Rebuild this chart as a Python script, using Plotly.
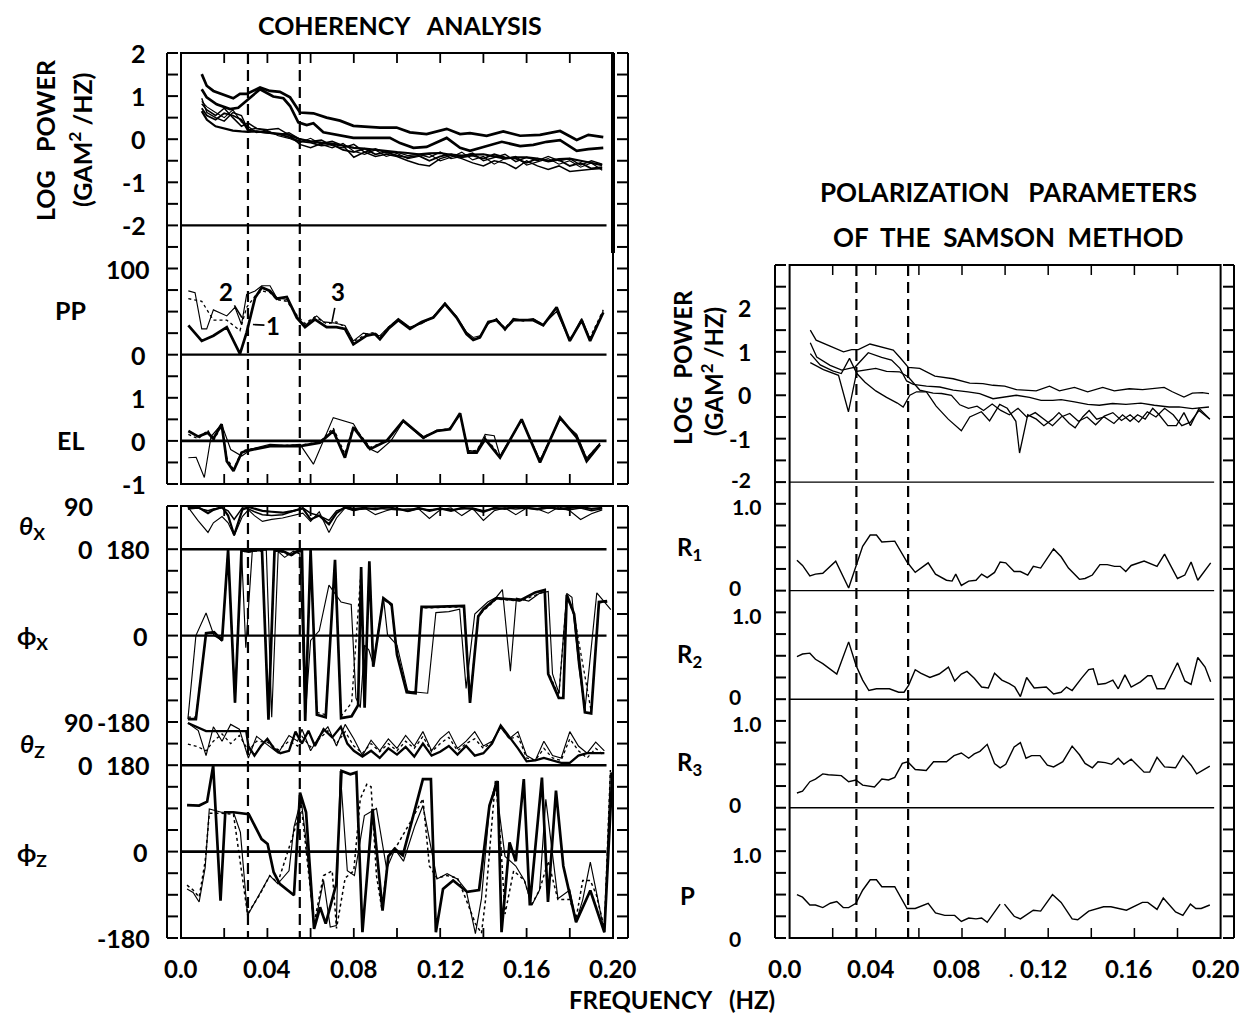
import plotly.graph_objects as go

# ======================= DATA =======================
EVENT_FREQS = [0.031, 0.055]                     # dashed marker frequencies (Hz)
X_TICK_VALUES = [0.0, 0.04, 0.08, 0.12, 0.16, 0.20]
X_TICK_LABELS = ["0.0", "0.04", "0.08", "0.12", "0.16", "0.20"]
X_MINOR_TICKS = [0.02, 0.04, 0.06, 0.08, 0.10, 0.12, 0.14, 0.16, 0.18]

# ---- Coherency analysis: log power (GAM^2/Hz)
LPW_A_F = [0.0096, 0.0119, 0.0150, 0.0196, 0.0242, 0.0273, 0.0304, 0.0366, 0.0412, 0.0458, 0.0505, 0.0551, 0.0613,
           0.0674, 0.0736, 0.0798, 0.0859, 0.0921, 0.0998, 0.1060, 0.1137, 0.1230, 0.1292, 0.1338, 0.1415, 0.1492,
           0.1570, 0.1662, 0.1755, 0.1832, 0.1886, 0.1955]
LPW_A = [1.51, 1.24, 1.12, 1.03, 0.95, 1.05, 1.05, 1.20, 1.12, 1.10, 0.97, 0.62, 0.60, 0.50, 0.43, 0.31, 0.29, 0.27,
         0.27, 0.16, 0.12, 0.24, 0.12, 0.14, 0.08, 0.18, 0.08, 0.10, 0.19, -0.02, 0.10, 0.05]
LPW_B_F = [0.0096, 0.0119, 0.0165, 0.0227, 0.0265, 0.0304, 0.0366, 0.0427, 0.0474, 0.0505, 0.0543, 0.0582, 0.0613,
           0.0659, 0.0720, 0.0798, 0.0890, 0.0967, 0.1014, 0.1076, 0.1137, 0.1230, 0.1292, 0.1338, 0.1400, 0.1485,
           0.1570, 0.1631, 0.1693, 0.1755, 0.1832, 0.1886, 0.1955]
LPW_B = [1.16, 0.97, 0.81, 0.70, 0.73, 0.89, 1.16, 0.99, 0.95, 0.77, 0.39, 0.33, 0.37, 0.16, 0.10, 0.03, 0.03, 0.03,
         -0.09, -0.20, -0.18, 0.03, -0.20, -0.27, -0.18, -0.06, -0.16, -0.13, -0.06, -0.02, -0.27, -0.23, -0.20]
LPW_CL_F = [0.0096, 0.012, 0.016, 0.020, 0.024, 0.028, 0.031, 0.035, 0.040, 0.045, 0.050, 0.055, 0.060, 0.065, 0.070,
            0.075, 0.080, 0.085, 0.090, 0.095, 0.100, 0.105, 0.110, 0.115, 0.120, 0.125, 0.130, 0.135, 0.140, 0.145,
            0.150, 0.155, 0.160, 0.165, 0.170, 0.175, 0.180, 0.185, 0.190, 0.195]
LPW_C1 = [0.72, 0.55, 0.45, 0.60, 0.55, 0.45, 0.20, 0.18, 0.15, 0.12, 0.05, -0.05, -0.08, -0.15, -0.12, -0.25, -0.30,
          -0.22, -0.35, -0.30, -0.38, -0.42, -0.38, -0.50, -0.40, -0.35, -0.42, -0.38, -0.45, -0.35, -0.42, -0.45,
          -0.55, -0.45, -0.52, -0.48, -0.62, -0.55, -0.68, -0.65]
LPW_C2 = [0.95, 0.62, 0.50, 0.42, 0.62, 0.55, 0.22, 0.25, 0.18, 0.10, 0.15, 0.00, -0.05, -0.02, -0.15, -0.20, -0.12,
          -0.30, -0.22, -0.32, -0.30, -0.38, -0.35, -0.42, -0.30, -0.45, -0.40, -0.32, -0.50, -0.42, -0.35, -0.52,
          -0.42, -0.50, -0.40, -0.50, -0.45, -0.60, -0.50, -0.58]
LPW_C3 = [0.82, 0.68, 0.55, 0.72, 0.50, 0.30, 0.38, 0.25, 0.22, 0.25, 0.10, -0.12, -0.20, -0.10, -0.05, -0.15, -0.42,
          -0.30, -0.40, -0.35, -0.40, -0.50, -0.58, -0.62, -0.45, -0.38, -0.45, -0.55, -0.62, -0.50, -0.55, -0.68,
          -0.50, -0.62, -0.70, -0.62, -0.75, -0.72, -0.70, -0.68]
LPW_C4 = [0.65, 0.45, 0.30, 0.25, 0.20, 0.18, 0.17, 0.18, 0.15, 0.12, 0.10, 0.00, -0.05, -0.08, -0.10, -0.15, -0.20,
          -0.22, -0.25, -0.28, -0.30, -0.32, -0.35, -0.33, -0.32, -0.36, -0.38, -0.36, -0.35, -0.40, -0.45, -0.42,
          -0.42, -0.45, -0.50, -0.46, -0.45, -0.50, -0.55, -0.60]
LPW_C5 = [0.88, 0.75, 0.62, 0.50, 0.68, 0.40, 0.30, 0.15, 0.20, 0.08, 0.02, -0.08, 0.02, -0.12, -0.20, -0.10, -0.28,
          -0.35, -0.25, -0.40, -0.33, -0.45, -0.40, -0.35, -0.50, -0.42, -0.30, -0.48, -0.40, -0.58, -0.45, -0.40,
          -0.60, -0.52, -0.45, -0.58, -0.50, -0.65, -0.55, -0.72]

# ---- PP (percent polarization)
PP1_F = [0.0034, 0.0096, 0.0150, 0.0212, 0.0273, 0.0304, 0.0343, 0.0374, 0.0412, 0.0443, 0.0490, 0.0536, 0.0574,
         0.0620, 0.0674, 0.0720, 0.0759, 0.0798, 0.0859, 0.0898, 0.0921, 0.0960, 0.1006, 0.1060, 0.1114, 0.1168,
         0.1222, 0.1276, 0.1322, 0.1353, 0.1384, 0.1423, 0.1461, 0.1500, 0.1538, 0.1585, 0.1631, 0.1677, 0.1739,
         0.1800, 0.1855, 0.1894, 0.1955]
PP1 = [34, 16, 22, 32, 1, 26, 66, 78, 74, 65, 67, 43, 32, 41, 32, 32, 30, 12, 22, 24, 18, 30, 40, 30, 38, 43, 59, 43,
       24, 17, 20, 38, 40, 30, 40, 40, 40, 34, 55, 16, 40, 16, 49]
PP2_F = [0.0034, 0.0065, 0.0096, 0.0119, 0.0150, 0.0212, 0.0250, 0.0280, 0.0304, 0.0343, 0.0374, 0.0412, 0.0443,
         0.0490, 0.0536, 0.0574, 0.0628, 0.0660, 0.0705, 0.0759, 0.0798, 0.0844, 0.0921, 0.0960, 0.1006, 0.1060,
         0.1114, 0.1168, 0.1222, 0.1276, 0.1322, 0.1353, 0.1384, 0.1423, 0.1461, 0.1500, 0.1538, 0.1585, 0.1631,
         0.1677, 0.1739, 0.1800, 0.1855, 0.1894, 0.1955]
PP2 = [74, 72, 30, 30, 52, 45, 55, 35, 70, 74, 80, 80, 66, 64, 44, 34, 45, 38, 37, 34, 16, 25, 22, 32, 42, 32, 36, 44,
       60, 44, 26, 20, 22, 36, 42, 28, 42, 40, 42, 35, 50, 16, 42, 18, 50]
PP3_F = PP1_F
PP3 = [65, 62, 40, 40, 28, 55, 68, 74, 72, 64, 62, 46, 36, 44, 36, 38, 32, 15, 24, 26, 20, 32, 41, 31, 37, 44, 58, 44,
       25, 18, 21, 37, 41, 31, 41, 39, 41, 35, 53, 18, 38, 20, 52]

# ---- EL (ellipticity)
EL1_F = [0.0034, 0.0080, 0.0124, 0.0150, 0.0188, 0.0212, 0.0243, 0.0281, 0.0304, 0.0412, 0.0490, 0.0551, 0.0643,
         0.0705, 0.0759, 0.0798, 0.0875, 0.0952, 0.1029, 0.1122, 0.1184, 0.1245, 0.1292, 0.1330, 0.1369, 0.1408,
         0.1477, 0.1577, 0.1662, 0.1755, 0.1832, 0.1878, 0.1940]
EL1 = [0.23, 0.10, 0.19, 0.05, 0.39, -0.47, -0.70, -0.27, -0.23, -0.12, -0.12, -0.12, -0.04, 0.23, -0.39, 0.31, -0.19,
       0.00, 0.47, 0.08, 0.23, 0.27, 0.64, -0.27, -0.27, 0.04, -0.39, 0.50, -0.50, 0.54, 0.08, -0.47, -0.08]
EL2_F = [0.0034, 0.0070, 0.0108, 0.0139, 0.0188, 0.0230, 0.0281, 0.0330, 0.0412, 0.0490, 0.0551, 0.0613, 0.0705,
         0.0751, 0.0798, 0.0864, 0.0910, 0.0972, 0.1029, 0.1122, 0.1184, 0.1245, 0.1292, 0.1330, 0.1369, 0.1408,
         0.1450, 0.1477, 0.1577, 0.1662, 0.1755, 0.1832, 0.1878, 0.1940]
EL2 = [-0.39, -0.38, -0.85, 0.10, 0.39, -0.20, -0.35, -0.18, -0.08, -0.10, -0.08, -0.54, 0.54, 0.47, 0.40, -0.16,
       -0.27, 0.00, 0.45, 0.05, 0.25, 0.28, 0.62, -0.22, -0.25, 0.15, 0.12, -0.35, 0.48, -0.45, 0.50, 0.15, -0.40, -0.05]
EL3_F = EL1_F
EL3 = [0.15, 0.05, 0.25, 0.00, 0.35, -0.40, -0.65, -0.25, -0.20, -0.12, -0.10, -0.10, -0.02, 0.30, -0.30, 0.35, -0.15,
       0.00, 0.45, 0.10, 0.22, 0.30, 0.60, -0.25, -0.22, 0.10, -0.35, 0.48, -0.45, 0.52, 0.12, -0.40, -0.06]

# ---- theta_x (deg)
TX_F = [0.0032, 0.0078, 0.0125, 0.0150, 0.0190, 0.0218, 0.0246, 0.0284, 0.0312, 0.0340, 0.0377, 0.0420, 0.0470,
        0.0520, 0.0564, 0.0600, 0.0640, 0.0685, 0.0720, 0.0760, 0.0800, 0.0850, 0.0900, 0.0950, 0.1000, 0.1050,
        0.1100, 0.1150, 0.1200, 0.1250, 0.1300, 0.1350, 0.1400, 0.1450, 0.1500, 0.1550, 0.1600, 0.1650, 0.1700,
        0.1750, 0.1800, 0.1850, 0.1900, 0.1950]
TX1 = [85, 88, 75, 82, 88, 70, 30, 82, 88, 84, 80, 78, 76, 80, 85, 62, 70, 52, 75, 88, 84, 86, 83, 88, 84, 80, 86, 80,
       85, 80, 86, 84, 78, 86, 84, 88, 86, 84, 88, 84, 86, 88, 84, 86]
TX2 = [88, 60, 35, 55, 68, 55, 28, 68, 82, 70, 58, 62, 65, 70, 75, 58, 78, 35, 65, 86, 80, 86, 72, 80, 86, 78, 84, 64,
       82, 86, 70, 85, 60, 80, 86, 72, 86, 84, 75, 88, 80, 62, 74, 82]
TX3 = [84, 86, 80, 84, 86, 80, 62, 86, 84, 78, 72, 70, 72, 80, 86, 75, 70, 60, 80, 86, 82, 84, 86, 84, 82, 84, 84, 82,
       84, 82, 84, 86, 80, 84, 86, 84, 86, 82, 86, 84, 82, 86, 80, 84]

# ---- phi_x (deg)
PX1_F = [0.0032, 0.0069, 0.0116, 0.0153, 0.0190, 0.0218, 0.0250, 0.0280, 0.0312, 0.0345, 0.0375, 0.0405, 0.0433,
         0.0470, 0.0510, 0.0540, 0.0560, 0.0575, 0.0600, 0.0629, 0.0670, 0.0700, 0.0713, 0.0741, 0.0790, 0.0820,
         0.0834, 0.0850, 0.0872, 0.0890, 0.0937, 0.0975, 0.1000, 0.1045, 0.1086, 0.1114, 0.1160, 0.1310, 0.1338,
         0.1376, 0.1400, 0.1460, 0.1572, 0.1640, 0.1684, 0.1700, 0.1749, 0.1770, 0.1786, 0.1820, 0.1870, 0.1899,
         0.1935, 0.1973]
PX1 = [-174, -174, 5, 7, -10, 178, -140, 178, 175, 178, 178, -175, 178, 176, 168, 176, 176, -178, 178, -165, -170, 50,
       158, -172, -168, -145, 143, -150, 155, -65, 78, 65, -40, -118, -120, 60, 60, 62, -140, 40, 55, 78, 74, 90, 95,
       -80, -130, -130, 85, 45, -160, -162, 70, 72]
PX2_F = [0.0032, 0.0069, 0.0116, 0.0153, 0.0190, 0.0218, 0.0250, 0.0280, 0.0300, 0.0330, 0.0360, 0.0395, 0.0420,
         0.0450, 0.0480, 0.0520, 0.0550, 0.0575, 0.0600, 0.0640, 0.0685, 0.0741, 0.0788, 0.0810, 0.0830, 0.0850,
         0.0870, 0.0890, 0.0937, 0.0956, 0.1000, 0.1050, 0.1142, 0.1180, 0.1240, 0.1290, 0.1320, 0.1360, 0.1420,
         0.1460, 0.1488, 0.1525, 0.1553, 0.1610, 0.1660, 0.1700, 0.1720, 0.1750, 0.1786, 0.1810, 0.1840, 0.1870,
         0.1925, 0.1990]
PX2 = [-174, 0, 47, 0, -10, 178, -140, 178, -25, 176, 178, 178, -170, 175, 163, 176, 170, -170, -10, 10, 105, 70, 65,
       -130, -150, -20, -30, -60, 80, 2, -20, -116, -120, 48, 50, 55, -110, 45, 70, 80, 96, -74, 78, 72, 88, 92, -80,
       -120, 88, 80, -60, -155, 89, 54]
PX3_F = [0.0032, 0.0069, 0.0116, 0.0153, 0.0190, 0.0218, 0.0250, 0.0280, 0.0312, 0.0345, 0.0375, 0.0405, 0.0433,
         0.0470, 0.0510, 0.0540, 0.0560, 0.0575, 0.0600, 0.0629, 0.0670, 0.0713, 0.0741, 0.0790, 0.0834, 0.0850,
         0.0872, 0.0890, 0.0937, 0.0975, 0.1000, 0.1045, 0.1086, 0.1114, 0.1160, 0.1310, 0.1338, 0.1376, 0.1460,
         0.1572, 0.1684, 0.1700, 0.1749, 0.1786, 0.1820, 0.1899, 0.1935, 0.1973]
PX3 = [-170, -170, 3, 5, -12, 176, -138, 176, 174, 176, 176, -172, 176, 174, 166, 174, 174, -176, 176, -160, -165, 155,
       -168, -140, 140, -148, 152, -62, 76, 62, -38, -115, -118, 58, 58, 60, -135, 42, 76, 72, 92, -75, -125, 82, 42,
       -158, 68, 70]

# ---- theta_z (deg)
TZ1_F = [0.0032, 0.0116, 0.0200, 0.0302, 0.0312, 0.0340, 0.0370, 0.0400, 0.0430, 0.0460, 0.0500, 0.0530, 0.0560,
         0.0590, 0.0620, 0.0660, 0.0700, 0.0740, 0.0770, 0.0800, 0.0840, 0.0880, 0.0920, 0.0960, 0.1000, 0.1040,
         0.1080, 0.1120, 0.1160, 0.1200, 0.1240, 0.1280, 0.1320, 0.1360, 0.1400, 0.1440, 0.1480, 0.1520, 0.1560,
         0.1600, 0.1640, 0.1680, 0.1720, 0.1760, 0.1800, 0.1840, 0.1880, 0.1920, 0.1960]
TZ1 = [88, 71, 71, 71, 40, 20, 40, 55, 35, 25, 30, 70, 45, 72, 40, 75, 58, 80, 45, 30, 18, 30, 15, 35, 22, 38, 18, 45,
       20, 28, 40, 22, 40, 20, 25, 45, 83, 60, 35, 8, 10, 15, 10, 5, 5, 20, 25, 25, 25]
TZ_F = [0.0032, 0.0080, 0.0116, 0.0150, 0.0190, 0.0230, 0.0270, 0.0312, 0.0350, 0.0400, 0.0450, 0.0500, 0.0540,
        0.0560, 0.0600, 0.0640, 0.0680, 0.0720, 0.0760, 0.0800, 0.0840, 0.0880, 0.0920, 0.0960, 0.1000, 0.1040,
        0.1080, 0.1120, 0.1160, 0.1200, 0.1240, 0.1280, 0.1320, 0.1360, 0.1400, 0.1440, 0.1480, 0.1520, 0.1560,
        0.1600, 0.1640, 0.1680, 0.1720, 0.1760, 0.1800, 0.1840, 0.1880, 0.1920, 0.1960]
TZ2 = [88, 72, 20, 80, 50, 85, 75, 15, 60, 42, 25, 62, 50, 75, 30, 60, 80, 40, 85, 55, 20, 52, 30, 55, 35, 62, 40, 70,
       30, 55, 70, 35, 50, 70, 40, 50, 78, 55, 70, 20, 10, 50, 20, 15, 70, 40, 25, 48, 30]
TZ3 = [44, 38, 30, 50, 65, 45, 62, 30, 50, 48, 32, 50, 40, 60, 38, 55, 72, 45, 70, 40, 25, 45, 28, 45, 30, 50, 35, 60,
       28, 45, 58, 30, 45, 55, 35, 48, 80, 55, 60, 15, 10, 35, 15, 10, 55, 30, 15, 35, 20]

# ---- phi_z (deg)
PZ1_F = [0.0028, 0.0084, 0.0121, 0.0149, 0.0183, 0.0205, 0.0243, 0.0314, 0.0373, 0.0401, 0.0429, 0.0457, 0.0523,
         0.0551, 0.0579, 0.0616, 0.0644, 0.0670, 0.0719, 0.0743, 0.0784, 0.0812, 0.0840, 0.0887, 0.0933, 0.0960,
         0.0989, 0.1027, 0.1120, 0.1157, 0.1180, 0.1213, 0.1260, 0.1325, 0.1380, 0.1428, 0.1466, 0.1484, 0.1521,
         0.1550, 0.1587, 0.1615, 0.1671, 0.1699, 0.1736, 0.1770, 0.1829, 0.1895, 0.1960, 0.1997]
PZ1 = [97, 96, 104, 179, -102, 82, 82, 78, 26, 16, -43, -67, -91, 123, 82, -161, -116, -150, -67, 168, 161, 165, -168,
       89, -123, -10, 6, -8, 151, 151, -168, -78, -60, -84, -80, 96, 147, -168, 19, -20, 151, -112, 154, -105, 127,
       -30, -147, -81, -168, 165]
PZ2_F = [0.0028, 0.0056, 0.0084, 0.0112, 0.0131, 0.0187, 0.0243, 0.0275, 0.0308, 0.0364, 0.0411, 0.0448, 0.0500,
         0.0523, 0.0556, 0.0580, 0.0616, 0.0660, 0.0691, 0.0719, 0.0737, 0.0770, 0.0803, 0.0849, 0.0905, 0.0952,
         0.0990, 0.1030, 0.1083, 0.1120, 0.1185, 0.1232, 0.1279, 0.1320, 0.1363, 0.1391, 0.1428, 0.1456, 0.1500,
         0.1550, 0.1590, 0.1624, 0.1660, 0.1689, 0.1745, 0.1800, 0.1829, 0.1860, 0.1895, 0.1923, 0.1960, 0.1988]
PZ2 = [-78, -85, -105, -33, 89, 82, 82, 40, -133, -88, -50, -67, -40, 51, 109, 20, -161, -60, -157, -154, 168, -40,
       -50, 75, 90, -36, 5, -20, 54, 96, -57, -46, -57, -80, -171, -98, 92, 144, -10, -30, -60, -112, -80, 109, -98,
       -80, -147, -100, -22, -84, -168, 165]
PZ3_F = [0.0028, 0.0056, 0.0084, 0.0112, 0.0131, 0.0187, 0.0243, 0.0308, 0.0364, 0.0411, 0.0448, 0.0523, 0.0556,
         0.0616, 0.0660, 0.0700, 0.0720, 0.0760, 0.0800, 0.0830, 0.0860, 0.0880, 0.0905, 0.0930, 0.0960, 0.0990,
         0.1060, 0.1120, 0.1150, 0.1185, 0.1230, 0.1280, 0.1320, 0.1363, 0.1391, 0.1410, 0.1456, 0.1480, 0.1500,
         0.1540, 0.1590, 0.1624, 0.1660, 0.1700, 0.1745, 0.1800, 0.1829, 0.1860, 0.1895, 0.1923, 0.1960, 0.1988]
PZ3 = [-70, -80, -95, -20, 80, 80, 78, -130, -90, -50, -65, 40, 100, -150, -50, -40, -160, -55, -40, 110, 140, 135,
       -50, -120, -10, 5, 60, 110, -30, -55, -50, -55, -100, -150, -170, -100, 150, 20, -130, -40, -60, -110, -80, -20,
       -100, -100, -140, -60, -60, -90, -160, 170]

# ---- Samson method: log power
RP_A_F = [0.0096, 0.0123, 0.0188, 0.0250, 0.0288, 0.0319, 0.0373, 0.0443, 0.0481, 0.0512, 0.0551, 0.0604, 0.0674,
          0.0759, 0.0836, 0.0897, 0.0944, 0.0998, 0.1052, 0.1144, 0.1206, 0.1252, 0.1322, 0.1383, 0.1453, 0.1507,
          0.1576, 0.1638, 0.1738, 0.1776, 0.1830, 0.1869, 0.1915, 0.1946]
RP_A = [1.50, 1.27, 1.13, 1.00, 1.05, 1.05, 1.18, 1.10, 1.04, 0.87, 0.64, 0.62, 0.44, 0.38, 0.28, 0.27, 0.23, 0.21,
        0.13, 0.10, 0.21, 0.10, 0.18, 0.08, 0.18, 0.10, 0.15, 0.13, 0.18, 0.08, -0.04, 0.05, 0.06, 0.04]
RP_B_F = [0.0096, 0.0126, 0.0188, 0.0242, 0.0304, 0.0365, 0.0427, 0.0473, 0.0512, 0.0543, 0.0574, 0.0635, 0.0697,
          0.0759, 0.0828, 0.0882, 0.0944, 0.1005, 0.1052, 0.1113, 0.1167, 0.1221, 0.1260, 0.1322, 0.1383, 0.1437,
          0.1499, 0.1561, 0.1630, 0.1692, 0.1761, 0.1807, 0.1869, 0.1946]
RP_B = [1.21, 0.88, 0.69, 0.58, 0.65, 0.98, 0.87, 0.81, 0.62, 0.33, 0.25, 0.21, 0.19, 0.12, 0.08, 0.04, -0.08, -0.04,
        0.00, -0.05, -0.12, -0.12, -0.10, -0.15, -0.21, -0.23, -0.19, -0.21, -0.18, -0.23, -0.27, -0.27, -0.31, -0.27]
RP_C_F = [0.0096, 0.0142, 0.0200, 0.0240, 0.0278, 0.0312, 0.0350, 0.0400, 0.0450, 0.0500, 0.0527, 0.0558, 0.0589,
          0.0635, 0.0680, 0.0736, 0.0797, 0.0836, 0.0890, 0.0928, 0.0975, 0.1010, 0.1050, 0.1067, 0.1105, 0.1145,
          0.1180, 0.1220, 0.1250, 0.1298, 0.1325, 0.1360, 0.1390, 0.1425, 0.1460, 0.1505, 0.1545, 0.1580, 0.1615,
          0.1650, 0.1685, 0.1715, 0.1755, 0.1795, 0.1830, 0.1860, 0.1900, 0.1950]
RP_C = [0.96, 0.70, 0.56, 0.50, 0.85, 0.50, 0.30, 0.10, -0.05, -0.18, -0.27, 0.00, 0.08, 0.08, -0.25, -0.55, -0.82,
        -0.50, -0.38, -0.59, -0.21, -0.30, -0.60, -1.33, -0.45, -0.55, -0.70, -0.55, -0.40, -0.65, -0.75, -0.50, -0.35,
        -0.55, -0.50, -0.65, -0.45, -0.60, -0.45, -0.55, -0.30, -0.45, -0.70, -0.70, -0.40, -0.70, -0.30, -0.55]
RP_D_F = [0.0096, 0.0157, 0.0227, 0.0273, 0.0312, 0.0360, 0.0400, 0.0450, 0.0510, 0.0551, 0.0604, 0.0666, 0.0705,
          0.0751, 0.0790, 0.0830, 0.0870, 0.0900, 0.0940, 0.0980, 0.1020, 0.1060, 0.1100, 0.1140, 0.1180, 0.1220,
          0.1260, 0.1300, 0.1340, 0.1380, 0.1420, 0.1460, 0.1500, 0.1540, 0.1580, 0.1620, 0.1660, 0.1700, 0.1740,
          0.1780, 0.1820, 0.1860, 0.1900, 0.1950]
RP_D = [0.75, 0.59, 0.46, -0.38, 0.55, 0.58, 0.62, 0.55, 0.54, 0.42, 0.12, 0.05, 0.04, 0.00, -0.22, -0.30, -0.25,
        -0.35, -0.20, -0.35, -0.45, -0.30, -0.50, -0.40, -0.55, -0.70, -0.50, -0.42, -0.60, -0.50, -0.68, -0.48, -0.40,
        -0.58, -0.45, -0.62, -0.38, -0.50, -0.30, -0.45, -0.70, -0.62, -0.35, -0.55]

# ---- Samson method: R1, R2, R3, P
R1_F = [0.0034, 0.0060, 0.0094, 0.0120, 0.0154, 0.0214, 0.0274, 0.0308, 0.0339, 0.0374, 0.0403, 0.0428, 0.0488,
        0.0545, 0.0583, 0.0643, 0.0677, 0.0728, 0.0754, 0.0771, 0.0797, 0.0831, 0.0865, 0.0891, 0.0917, 0.0951,
        0.0977, 0.1003, 0.1042, 0.1071, 0.1105, 0.1131, 0.1165, 0.1225, 0.1260, 0.1294, 0.1345, 0.1371, 0.1405,
        0.1440, 0.1474, 0.1508, 0.1534, 0.1560, 0.1585, 0.1645, 0.1705, 0.1740, 0.1800, 0.1834, 0.1863, 0.1894,
        0.1954]
R1 = [0.35, 0.29, 0.17, 0.19, 0.20, 0.34, 0.03, 0.27, 0.51, 0.64, 0.64, 0.56, 0.57, 0.33, 0.21, 0.32, 0.19, 0.12, 0.11,
      0.19, 0.06, 0.11, 0.12, 0.19, 0.15, 0.21, 0.33, 0.32, 0.22, 0.22, 0.18, 0.28, 0.26, 0.48, 0.39, 0.26, 0.13, 0.14,
      0.18, 0.30, 0.30, 0.28, 0.28, 0.22, 0.29, 0.34, 0.28, 0.42, 0.14, 0.18, 0.33, 0.12, 0.32]
R2_F = [0.0034, 0.0060, 0.0094, 0.0120, 0.0154, 0.0219, 0.0274, 0.0308, 0.0339, 0.0368, 0.0403, 0.0428, 0.0463,
        0.0506, 0.0531, 0.0552, 0.0583, 0.0608, 0.0651, 0.0694, 0.0737, 0.0766, 0.0797, 0.0823, 0.0857, 0.0891,
        0.0922, 0.0951, 0.0985, 0.1020, 0.1045, 0.1071, 0.1100, 0.1135, 0.1165, 0.1191, 0.1225, 0.1260, 0.1285,
        0.1311, 0.1354, 0.1388, 0.1409, 0.1431, 0.1465, 0.1500, 0.1525, 0.1556, 0.1585, 0.1628, 0.1662, 0.1680,
        0.1705, 0.1740, 0.1800, 0.1834, 0.1863, 0.1894, 0.1928, 0.1954]
R2 = [0.49, 0.52, 0.53, 0.46, 0.41, 0.29, 0.66, 0.39, 0.22, 0.10, 0.12, 0.12, 0.12, 0.08, 0.08, 0.16, 0.34, 0.30, 0.25,
      0.29, 0.37, 0.21, 0.29, 0.32, 0.24, 0.14, 0.13, 0.30, 0.22, 0.18, 0.14, 0.03, 0.25, 0.13, 0.14, 0.14, 0.06, 0.08,
      0.14, 0.10, 0.24, 0.34, 0.35, 0.17, 0.18, 0.22, 0.12, 0.28, 0.14, 0.20, 0.27, 0.27, 0.12, 0.12, 0.42, 0.21, 0.17,
      0.48, 0.37, 0.20]
R3_F = [0.0034, 0.0060, 0.0094, 0.0120, 0.0154, 0.0180, 0.0240, 0.0274, 0.0308, 0.0339, 0.0394, 0.0428, 0.0459,
        0.0488, 0.0523, 0.0548, 0.0583, 0.0634, 0.0668, 0.0728, 0.0763, 0.0797, 0.0831, 0.0857, 0.0883, 0.0917,
        0.0951, 0.0977, 0.1003, 0.1042, 0.1071, 0.1097, 0.1123, 0.1162, 0.1196, 0.1225, 0.1268, 0.1311, 0.1345,
        0.1371, 0.1405, 0.1431, 0.1465, 0.1494, 0.1525, 0.1551, 0.1585, 0.1611, 0.1645, 0.1671, 0.1705, 0.1740,
        0.1791, 0.1825, 0.1863, 0.1889, 0.1919, 0.1950]
R3 = [0.17, 0.19, 0.30, 0.33, 0.39, 0.38, 0.37, 0.30, 0.32, 0.26, 0.24, 0.33, 0.32, 0.35, 0.51, 0.53, 0.44, 0.43, 0.53,
      0.53, 0.60, 0.63, 0.57, 0.62, 0.65, 0.73, 0.51, 0.46, 0.50, 0.70, 0.75, 0.57, 0.60, 0.60, 0.49, 0.47, 0.53, 0.71,
      0.61, 0.51, 0.46, 0.53, 0.52, 0.50, 0.57, 0.50, 0.56, 0.50, 0.41, 0.41, 0.58, 0.47, 0.46, 0.60, 0.49, 0.39, 0.43,
      0.48]
P_F = [0.0034, 0.0060, 0.0094, 0.0120, 0.0154, 0.0189, 0.0219, 0.0249, 0.0274, 0.0308, 0.0339, 0.0374, 0.0403, 0.0428,
       0.0488, 0.0545, 0.0583, 0.0643, 0.0677, 0.0720, 0.0766, 0.0797, 0.0831, 0.0865, 0.0891, 0.0917, 0.0977, None,
       0.0997, 0.1042, 0.1071, 0.1105, 0.1131, 0.1165, 0.1220, 0.1260, 0.1311, 0.1337, 0.1388, 0.1457, 0.1491, 0.1563,
       0.1637, 0.1662, 0.1705, 0.1734, 0.1765, 0.1791, 0.1825, 0.1860, 0.1885, 0.1910, 0.1950]
P = [0.50, 0.47, 0.38, 0.38, 0.35, 0.40, 0.42, 0.35, 0.35, 0.40, 0.55, 0.67, 0.67, 0.59, 0.59, 0.34, 0.34, 0.40, 0.29,
     0.26, 0.26, 0.19, 0.23, 0.22, 0.23, 0.18, 0.39, None, 0.39, 0.25, 0.22, 0.28, 0.32, 0.31, 0.50, 0.41, 0.22, 0.21,
     0.31, 0.36, 0.36, 0.32, 0.41, 0.41, 0.33, 0.46, 0.37, 0.30, 0.26, 0.39, 0.34, 0.34, 0.38]

# ======================= LAYOUT GEOMETRY =======================
FIG_W, FIG_H, OFF = 1235, 1006, 8
FONT = "Lato"


def xp(X):
    return (X - OFF) / FIG_W


def yp(Y):
    return 1 - (Y - OFF) / FIG_H


L_X0, L_X1 = 181, 613
LU_Y0, LU_Y1 = 53, 484          # upper left box
LL_Y0, LL_Y1 = 506, 938         # lower left box
R_X0, R_X1 = 789.6, 1220.6
R_Y0, R_Y1 = 265, 938
TL_U = (LU_Y1 - LU_Y0) / 20
TL_L = (LL_Y1 - LL_Y0) / 20
TR = (R_Y1 - R_Y0) / 31

fig = go.Figure()
layout = dict(width=FIG_W, height=FIG_H, margin=dict(l=0, r=0, t=0, b=0), autosize=False,
              paper_bgcolor="white", plot_bgcolor="rgba(0,0,0,0)", showlegend=False)
layout["xaxis"] = dict(domain=[xp(L_X0), xp(L_X1)], range=[0, 0.2], visible=False, fixedrange=True)
layout["xaxis2"] = dict(domain=[xp(R_X0), xp(R_X1)], range=[0, 0.2], visible=False, fixedrange=True, anchor="y8")


def yaxis(Ytop, Ybot, vtop, vbot, anchor, pad=4):
    ppu = (Ybot - Ytop) / (vtop - vbot)
    return dict(domain=[yp(Ybot + pad), yp(Ytop - pad)], range=[vbot - pad / ppu, vtop + pad / ppu],
                visible=False, anchor=anchor, fixedrange=True)


layout["yaxis"] = yaxis(LU_Y0, LU_Y0 + 8 * TL_U, 2, -2, "x")
layout["yaxis2"] = yaxis(LU_Y0 + 8 * TL_U, LU_Y0 + 14 * TL_U, 150, 0, "x")
layout["yaxis3"] = yaxis(LU_Y0 + 14 * TL_U, LU_Y1, 2, -1, "x")
layout["yaxis4"] = yaxis(LL_Y0, LL_Y0 + 2 * TL_L, 90, 0, "x")
layout["yaxis5"] = yaxis(LL_Y0 + 2 * TL_L, LL_Y0 + 10 * TL_L, 180, -180, "x")
layout["yaxis6"] = yaxis(LL_Y0 + 10 * TL_L, LL_Y0 + 12 * TL_L, 90, 0, "x")
layout["yaxis7"] = yaxis(LL_Y0 + 12 * TL_L, LL_Y1, 180, -180, "x")
layout["yaxis8"] = yaxis(R_Y0, R_Y0 + 10 * TR, 3, -2, "x2")
layout["yaxis9"] = yaxis(R_Y0 + 10 * TR, R_Y0 + 15 * TR, 1.25, 0, "x2")
layout["yaxis10"] = yaxis(R_Y0 + 15 * TR, R_Y0 + 20 * TR, 1.25, 0, "x2")
layout["yaxis11"] = yaxis(R_Y0 + 20 * TR, R_Y0 + 25 * TR, 1.25, 0, "x2")
layout["yaxis12"] = yaxis(R_Y0 + 25 * TR, R_Y1, 1.5, 0, "x2")

THICK, MED, THIN = 2.7, 1.8, 1.15


def add(xs, ys, xa, ya, width, dash="solid"):
    fig.add_trace(go.Scatter(x=xs, y=ys, xaxis=xa, yaxis=ya, mode="lines", hoverinfo="skip",
                             line=dict(color="black", width=width, dash=dash), connectgaps=False))


# left power
add(LPW_CL_F, LPW_C5, "x", "y", THIN)
add(LPW_CL_F, LPW_C2, "x", "y", 1.4)
add(LPW_CL_F, LPW_C1, "x", "y", MED)
add(LPW_CL_F, LPW_C3, "x", "y", 1.5)
add(LPW_CL_F, LPW_C4, "x", "y", 2.2)
add(LPW_A_F, LPW_A, "x", "y", THICK)
add(LPW_B_F, LPW_B, "x", "y", THICK)
# PP
add(PP3_F, PP3, "x", "y2", 1.3, "dot")
add(PP2_F, PP2, "x", "y2", THIN)
add(PP1_F, PP1, "x", "y2", THICK)
# EL
add(EL3_F, EL3, "x", "y3", 1.3, "dot")
add(EL2_F, EL2, "x", "y3", THIN)
add(EL1_F, EL1, "x", "y3", THICK)
# theta x / phi x
add(TX_F, TX3, "x", "y4", 1.5)
add(TX_F, TX2, "x", "y4", THIN)
add(TX_F, TX1, "x", "y4", 2.2)
add(PX3_F, PX3, "x", "y5", 1.3, "dot")
add(PX2_F, PX2, "x", "y5", THIN)
add(PX1_F, PX1, "x", "y5", THICK)
# theta z / phi z
add(TZ_F, TZ3, "x", "y6", 1.3, "dot")
add(TZ_F, TZ2, "x", "y6", THIN)
add(TZ1_F, TZ1, "x", "y6", 2.3)
add(PZ3_F, PZ3, "x", "y7", 1.5, "dot")
add(PZ2_F, PZ2, "x", "y7", THIN)
add(PZ1_F, PZ1, "x", "y7", THICK)
# right panel
add(RP_A_F, RP_A, "x2", "y8", 1.3)
add(RP_B_F, RP_B, "x2", "y8", 1.3)
add(RP_C_F, RP_C, "x2", "y8", 1.3)
add(RP_D_F, RP_D, "x2", "y8", 1.3)
add(R1_F, R1, "x2", "y9", 1.4)
add(R2_F, R2, "x2", "y10", 1.4)
add(R3_F, R3, "x2", "y11", 1.4)
add(P_F, P, "x2", "y12", 1.4)

# ======================= DECORATION =======================
shapes = []
DASH = "11px,6px"


def seg(x0, y0, x1, y1, w=2.0, xref="paper", yref="paper", dash="solid"):
    shapes.append(dict(type="line", x0=x0, y0=y0, x1=x1, y1=y1, xref=xref, yref=yref,
                       line=dict(color="black", width=w, dash=dash), layer="above"))


def box(X0, Y0, X1, Y1, w=2.0):
    shapes.append(dict(type="rect", x0=xp(X0), x1=xp(X1), y0=yp(Y1), y1=yp(Y0), xref="paper", yref="paper",
                       line=dict(color="black", width=w), fillcolor="rgba(0,0,0,0)", layer="above"))


def side_axes(Y0, Y1, n, step, XL, XR, tl=11):
    seg(xp(XL), yp(Y0), xp(XL), yp(Y1), 2)
    seg(xp(XR), yp(Y0), xp(XR), yp(Y1), 2)
    for k in range(n + 1):
        Y = Y0 + k * step
        seg(xp(XL), yp(Y), xp(XL + tl), yp(Y), 2)
        seg(xp(XR - tl), yp(Y), xp(XR), yp(Y), 2)


box(L_X0, LU_Y0, L_X1, LU_Y1)
box(L_X0, LL_Y0, L_X1, LL_Y1)
box(R_X0, R_Y0, R_X1, R_Y1)
seg(xp(L_X1), yp(LU_Y0), xp(L_X1), yp(253), 4)
side_axes(LU_Y0, LU_Y1, 20, TL_U, 167, 628)
side_axes(LL_Y0, LL_Y1, 20, TL_L, 167, 628)
side_axes(R_Y0, R_Y1, 31, TR, 775, 1234)

for f in X_MINOR_TICKS:
    for (Y0, Y1) in [(LU_Y0, LU_Y0 + 10), (LU_Y1, LU_Y1 - 10), (LL_Y0, LL_Y0 + 10), (LL_Y1, LL_Y1 - 10)]:
        seg(f, yp(Y0), f, yp(Y1), 1.8, xref="x")
    for (Y0, Y1) in [(R_Y0, R_Y0 + 10), (R_Y1, R_Y1 - 10)]:
        seg(f, yp(Y0), f, yp(Y1), 1.5, xref="x2")

for f in EVENT_FREQS:
    seg(f, yp(LU_Y0), f, yp(LU_Y1), 2.2, xref="x", dash=DASH)
    seg(f, yp(LL_Y0), f, yp(LL_Y1), 2.2, xref="x", dash=DASH)
    seg(f, yp(R_Y0), f, yp(R_Y1), 2.2, xref="x2", dash=DASH)

for ya, v, w in [("y", -2, 2.2), ("y2", 0, 2.2), ("y3", 0, 2.8), ("y4", 0, 2.4), ("y5", 0, 2.2), ("y6", 0, 2.4),
                 ("y7", 0, 2.8)]:
    seg(0, v, 0.197, v, w, xref="x", yref=ya)
for ya, v in [("y8", -2), ("y9", 0), ("y10", 0), ("y11", 0)]:
    seg(0, v, 0.197, v, 1.4, xref="x2", yref=ya)

ann = []


def txt(X, Y, s, size=25, xanchor="center", angle=0, xref="paper", yref="paper", x=None, y=None, xshift=0,
        yshift=0):
    ann.append(dict(x=xp(X) if x is None else x, y=yp(Y) if y is None else y, xref=xref, yref=yref, text=s,
                    showarrow=False, xanchor=xanchor, yanchor="middle", textangle=angle, xshift=xshift,
                    yshift=yshift, font=dict(family=FONT, size=size, color="black", weight="bold")))


# titles
txt(400, 25, "COHERENCY&nbsp;&nbsp;&nbsp;ANALYSIS", size=25)
txt(1008, 192, "POLARIZATION&nbsp;&nbsp;&nbsp;PARAMETERS", size=26)
txt(1008, 237, "OF&nbsp;&nbsp;THE&nbsp;&nbsp;SAMSON&nbsp;&nbsp;METHOD", size=26)
txt(672, 999, "FREQUENCY&nbsp;&nbsp;&nbsp;(HZ)", size=24)

# left y labels
txt(45, 140, "LOG&nbsp;&nbsp;&nbsp;POWER", angle=-90)
txt(80, 140, "(GAM<sup>2</sup> /HZ)", angle=-90)
for v, s in [(2, "2"), (1, "1"), (0, "0"), (-1, "-1"), (-2, "-2")]:
    txt(148, 0, s, xanchor="right", yref="y", y=v)
txt(152, 0, "100", xanchor="right", yref="y2", y=100)
txt(148, 0, "0", xanchor="right", yref="y2", y=0)
for v, s in [(1, "1"), (0, "0"), (-1, "-1")]:
    txt(148, 0, s, xanchor="right", yref="y3", y=v)
txt(70, 310, "PP")
txt(70, 440, "EL")
txt(95, 0, "90", xanchor="right", yref="y4", y=90)
txt(95, 0, "0", xanchor="right", yref="y4", y=0)
txt(152, 0, "180", xanchor="right", yref="y5", y=180)
txt(150, 0, "0", xanchor="right", yref="y5", y=0)
txt(152, 0, "-180", xanchor="right", yref="y5", y=-180)
txt(95, 0, "90", xanchor="right", yref="y6", y=90)
txt(95, 0, "0", xanchor="right", yref="y6", y=0)
txt(152, 0, "180", xanchor="right", yref="y7", y=180)
txt(150, 0, "0", xanchor="right", yref="y7", y=0)
txt(152, 0, "-180", xanchor="right", yref="y7", y=-180)
txt(32, 527, "<i>θ</i><sub>X</sub>")
txt(32, 637, "ϕ<sub>X</sub>")
txt(32, 745, "<i>θ</i><sub>Z</sub>")
txt(32, 854, "ϕ<sub>Z</sub>")

# right y labels
txt(682, 368, "LOG&nbsp;&nbsp;&nbsp;POWER", angle=-90, size=24)
txt(712, 372, "(GAM<sup>2</sup> /HZ)", angle=-90, size=24)
for v, s in [(2, "2"), (1, "1"), (0, "0"), (-1, "-1")]:
    txt(753, 0, s, xanchor="right", yref="y8", y=v, size=23)
txt(753, 0, "-2", xanchor="right", yref="y8", y=-2, size=21, yshift=3)
for ya in ["y9", "y10", "y11", "y12"]:
    txt(763, 0, "1.0", xanchor="right", yref=ya, y=1.0, size=21, yshift=-3)
    txt(743, 0, "0", xanchor="right", yref=ya, y=0, size=21, yshift=3 if ya != "y12" else 0)
txt(690, 548, "R<sub>1</sub>", size=24)
txt(690, 655, "R<sub>2</sub>", size=24)
txt(690, 763, "R<sub>3</sub>", size=24)
txt(687, 895, "P", size=24)

# x tick labels
for v, s in zip(X_TICK_VALUES, X_TICK_LABELS):
    txt(0, 968, s, xref="x", x=v, size=24)
    txt(0, 968, s, xref="x2", x=v, size=24, xshift=-5)
txt(1011, 970, ".", size=18)

# curve identifiers in PP panel
for (f, v, s, ax, ay) in [(0.0282, 43, "2", -16, -26), (0.0699, 38, "3", 6, -30), (0.0333, 35, "1", 20, 1)]:
    ann.append(dict(x=f, y=v, xref="x", yref="y2", text=s, showarrow=True, arrowhead=0, arrowwidth=1.6,
                    arrowcolor="black", ax=ax, ay=ay, standoff=0,
                    font=dict(family=FONT, size=24, color="black", weight="bold")))

layout["shapes"] = shapes
layout["annotations"] = ann
fig.update_layout(**layout)
fig.write_html("out.html")
